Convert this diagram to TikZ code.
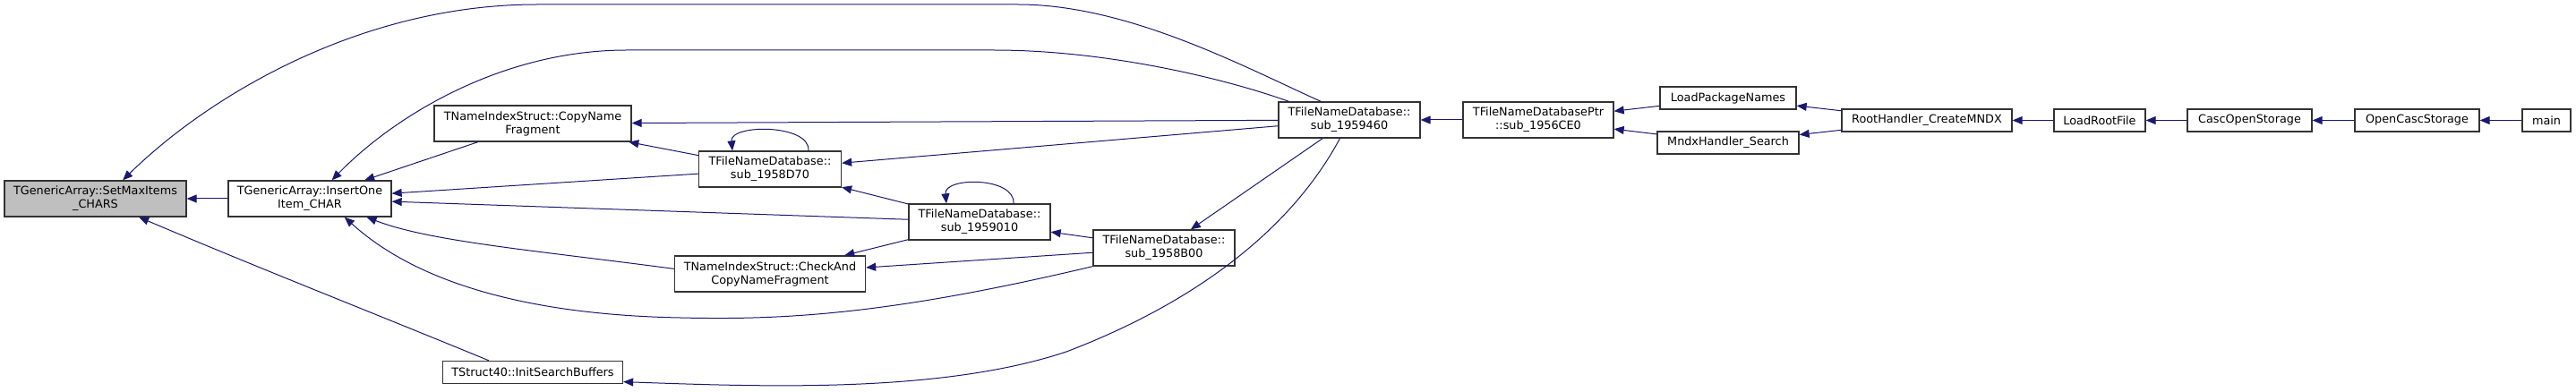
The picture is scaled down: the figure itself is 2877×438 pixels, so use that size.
\documentclass[tikz,border=0pt]{standalone}
\usepackage{fontspec}
\setmainfont{DejaVu Sans}
\usetikzlibrary{arrows.meta}
\definecolor{callblue}{HTML}{191970}
\definecolor{rootgray}{HTML}{BFBFBF}

\begin{document}
\begin{tikzpicture}[x=1pt,y=-1pt,
  fn/.style={draw=black!80,line width=1.3pt,fill=white,align=center,inner sep=0pt,
    minimum height=40pt,font=\fontsize{12.8}{15}\selectfont},
  fnone/.style={fn,minimum height=25pt},
  call/.style={callblue,line width=1pt,-{Triangle[length=11pt,width=9pt]}}]
\useasboundingbox (0,0) rectangle (2877,438);
% left part of the graph
\node[fn,fill=rootgray,minimum width=203pt] (setmax) at (106.5,222) {TGenericArray::SetMaxItems\\\_CHARS};
\node[fn,minimum width=182pt] (insert) at (346,222) {TGenericArray::InsertOne\\Item\_CHAR};
\node[fn,minimum width=220pt] (copyname) at (595,138) {TNameIndexStruct::CopyName\\Fragment};
\node[fnone,minimum width=201pt] (initsb) at (595,416) {TStruct40::InitSearchBuffers};
\node[fn,minimum width=159pt] (d70) at (860,189) {TFileNameDatabase::\\sub\_1958D70};
\node[fn,minimum width=213pt] (checkcopy) at (860,306) {TNameIndexStruct::CheckAnd\\CopyNameFragment};
\node[fn,minimum width=158pt] (s010) at (1094,248) {TFileNameDatabase::\\sub\_1959010};
\node[fn,minimum width=158pt] (b00) at (1300,277) {TFileNameDatabase::\\sub\_1958B00};
\node[fn,minimum width=158pt] (s460) at (1507,134) {TFileNameDatabase::\\sub\_1959460};
% right part: one chain up to main
\node[fn,minimum width=168pt] (ptr) at (1718,134) {TFileNameDatabasePtr\\::sub\_1956CE0};
\node[fnone,minimum width=152pt] (lpn) at (1930,109.5) {LoadPackageNames};
\node[fnone,minimum width=158pt] (mndx) at (1930,159.5) {MndxHandler\_Search};
\node[fnone,minimum width=190pt] (root) at (2152,134.5) {RootHandler\_CreateMNDX};
\node[fnone,minimum width=102pt] (lrf) at (2345,134.5) {LoadRootFile};
\node[fnone,minimum width=139pt] (cascopen) at (2512.5,134.5) {CascOpenStorage};
\node[fnone,minimum width=139pt] (ocs) at (2699.5,134.5) {OpenCascStorage};
\node[fnone,minimum width=54pt] (main) at (2844,134.5) {main};
% straight calls
\foreach \a/\b in {main/ocs,ocs/cascopen,cascopen/lrf,lrf/root,root/lpn,root/mndx,
  lpn/ptr,mndx/ptr,ptr/s460,s460/copyname,s460/d70,s460/b00,b00/s010,b00/checkcopy,
  s010/d70,s010/checkcopy,s010/insert,d70/copyname,d70/insert,copyname/insert,insert/setmax}
  \draw[call] (\a) -- (\b);
% recursive ones
\foreach \n/\l/\r in {d70/43/42,s010/38/37}
  \draw[call] ([xshift=\l pt]\n.north) .. controls +(2,-30) and +(-3,-30) .. ([xshift=-\r pt]\n.north);
% long calls from sub_1959460 over the top
\draw[call] (s460.147) .. controls (1390,75) and (1260,5) .. (1137,5) -- (600,5)
  .. controls (400,5) and (230,110) .. (setmax.34);
\draw[call] (s460.163) .. controls (1360,85) and (1230,56) .. (1110,56) -- (700,56)
  .. controls (560,56) and (440,130) .. (insert.40);
% and the ones below
\draw[call] (s460.-117) .. controls (1440,260) and (1330,340) .. (1191,393)
  .. controls (1050,440) and (850,432) .. (initsb.-6);
\draw[call] (initsb.165) .. controls (430,355) and (290,300) .. (setmax.-23);
\draw[call] (checkcopy.177) .. controls (600,280) and (480,270) .. (insert.-18);
\draw[call] (b00.south west) .. controls (1000,350) and (880,358) .. (760,355)
  .. controls (600,352) and (470,320) .. (insert.-28);
\end{tikzpicture}
\end{document}
